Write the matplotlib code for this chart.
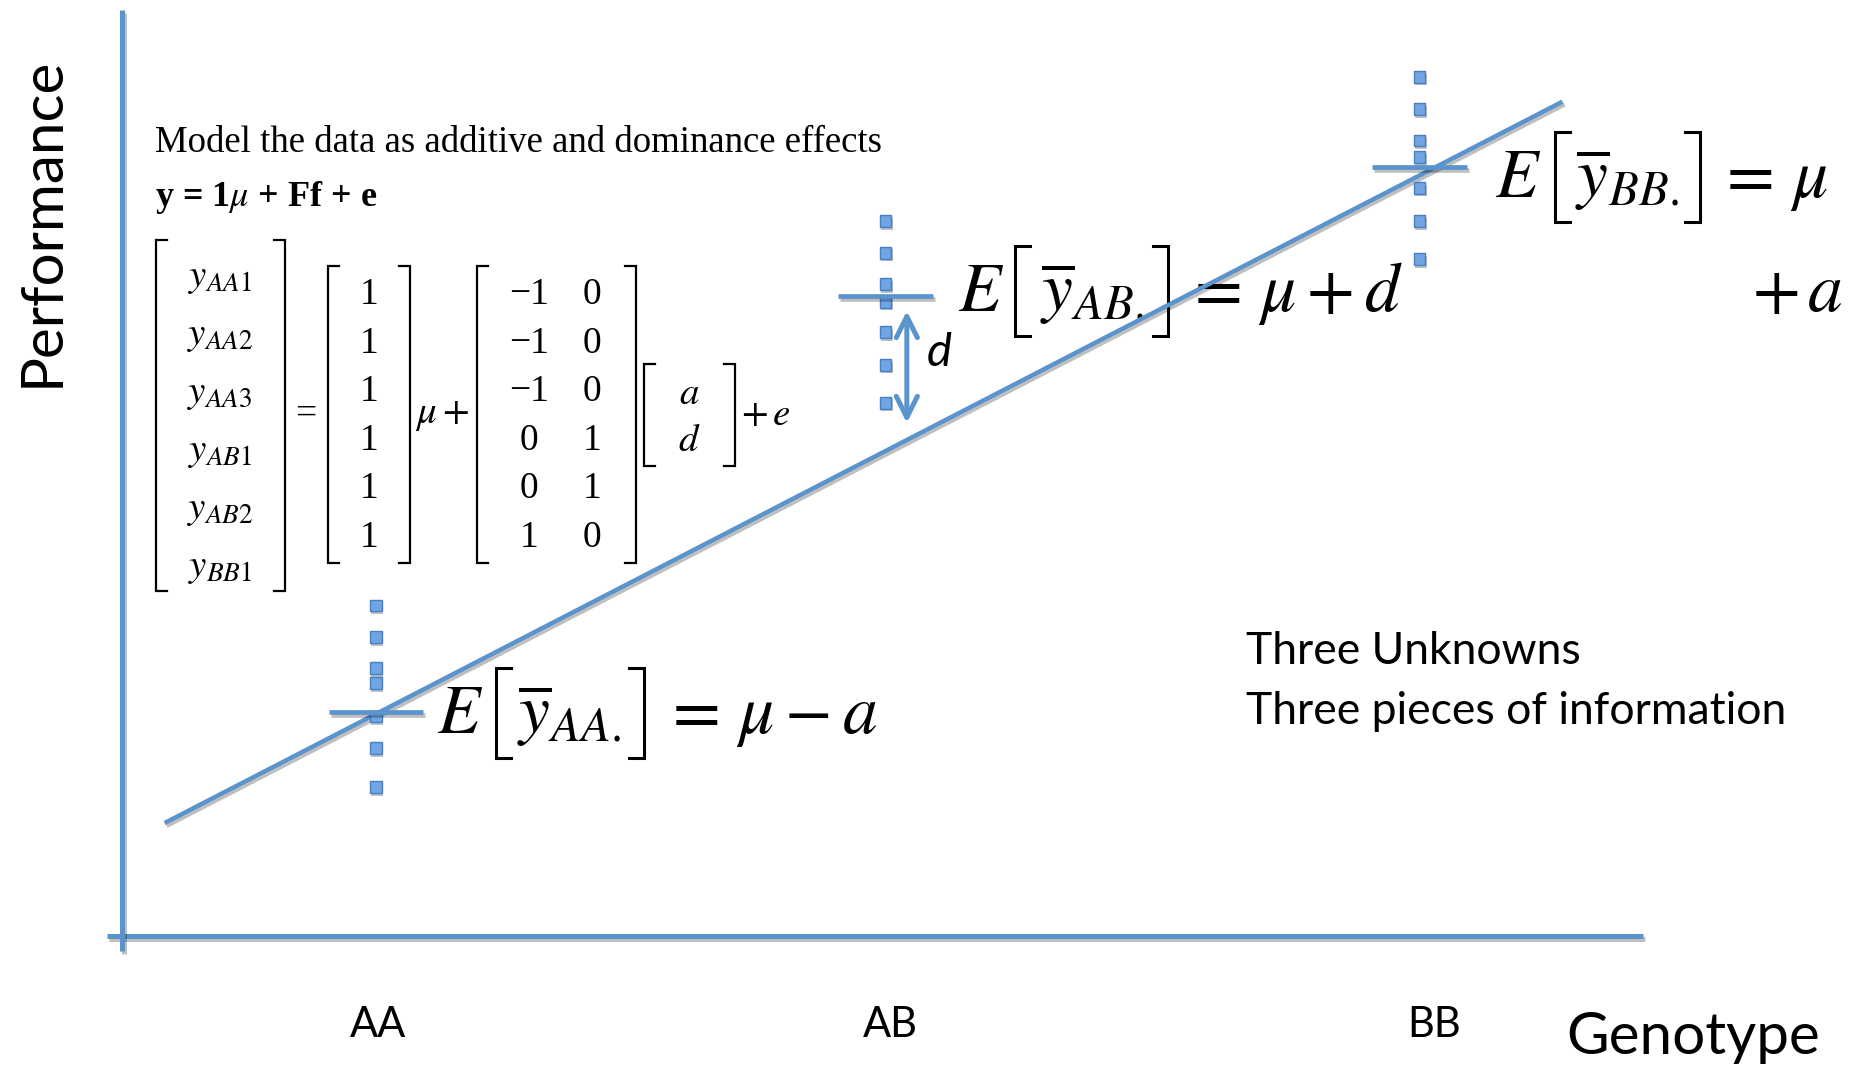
import matplotlib
matplotlib.use("Agg")
import matplotlib.pyplot as plt
import matplotlib.patheffects as pe

plt.rcParams['mathtext.fontset'] = 'stix'

# --- data (genotype axis 0..10, performance axis 0..10) ---
genotypes = ["AA", "AB", "BB"]
geno_x = [1.67, 5.02, 8.53]
label_x = [1.68, 5.05, 8.63]
obs_AA = [3.57, 3.23, 2.89, 2.73, 2.37, 2.03, 1.61]
obs_AB = [7.72, 7.38, 7.04, 6.85, 6.52, 6.17, 5.76]
obs_BB = [9.28, 8.93, 8.59, 8.41, 8.08, 7.72, 7.31]
group_means = [2.42, 6.91, 8.30]
trend_x = [0.28, 9.47]
trend_y = [1.22, 9.01]
d_arrow_x = 5.16
d_arrow_y = [6.75, 5.54]

# model y = 1mu + Ff + e
y_names = ["AA1", "AA2", "AA3", "AB1", "AB2", "BB1"]
ones = [1, 1, 1, 1, 1, 1]
F = [[-1, 0], [-1, 0], [-1, 0], [0, 1], [0, 1], [1, 0]]
effects = ["a", "d"]

# expected value equations: (subscript, right-hand side)
eq_sub = ["AA.", "AB.", "BB."]
eq_rhs = [r"=\,\mu-a", r"=\,\mu+d", r"=\,\mu"]

BLUE = '#5B93CC'
W, H = 1864, 1068
shadow = [pe.SimpleLineShadow(offset=(1.5, -2), alpha=0.25), pe.Normal()]

fig = plt.figure(figsize=(W / 100, H / 100), dpi=100)

# overlay in pixel coords for the text / brackets (drawn below the data)
ov = fig.add_axes([0, 0, 1, 1])
ov.set_xlim(0, W)
ov.set_ylim(H, 0)
ov.axis('off')
ov.set_zorder(0)

ax = fig.add_axes([122 / W, (H - 936) / H, 1521 / W, 926 / H])
ax.set_xlim(0, 10)
ax.set_ylim(0, 10)
ax.axis('off')
ax.set_zorder(1)

# axes lines
ax.plot([-0.1, 10], [0, 0], color=BLUE, lw=3.6, clip_on=False, path_effects=shadow, solid_capstyle='butt')
ax.plot([0, 0], [-0.16, 10], color=BLUE, lw=3.6, clip_on=False, path_effects=shadow, solid_capstyle='butt')

# trend line
ax.plot(trend_x, trend_y, color=BLUE, lw=3.2, path_effects=shadow, solid_capstyle='butt')

# observations and group means
for gx, obs, m in zip(geno_x, [obs_AA, obs_AB, obs_BB], group_means):
    ax.plot([gx] * len(obs), obs, 's', ms=8.5, mfc='#6FA5E2', mec='#4A7FC0', mew=1.0,
            path_effects=[pe.SimplePatchShadow(offset=(1, -2), alpha=0.3), pe.Normal()])
    ax.plot([gx - 0.31, gx + 0.31], [m, m], color=BLUE, lw=3.4, path_effects=shadow,
            solid_capstyle='butt')

for lx, lab in zip(label_x, genotypes):
    ax.text(lx, -0.96, lab, ha='center', va='center', fontsize=30, family='Lato')

# dominance arrow
ax.annotate('', xy=(d_arrow_x, d_arrow_y[1]), xytext=(d_arrow_x, d_arrow_y[0]),
            arrowprops=dict(arrowstyle='<->', color=BLUE, lw=3.6, mutation_scale=38,
                            shrinkA=0, shrinkB=0))
ax.text(d_arrow_x + 0.13, (d_arrow_y[0] + d_arrow_y[1]) / 2 + 0.15, 'd', fontsize=34,
        family='Lato', style='italic', va='center', ha='left')

# axis titles
ov.text(42, 222, "Performance", rotation=90, ha='center', va='center', fontsize=42, family='Lato')
ov.text(1693, 1038, "Genotype", ha='center', va='center', fontsize=42, family='Lato')


def bracket(x0, x1, y0, y1, s=11, lw=1.6):
    ov.plot([x0 + s, x0, x0, x0 + s], [y0, y0, y1, y1], color='black', lw=lw,
            solid_joinstyle='miter')
    ov.plot([x1 - s, x1, x1, x1 - s], [y0, y0, y1, y1], color='black', lw=lw,
            solid_joinstyle='miter')


# expected values, built from pieces so the brackets can be tall
eq_size = 50
eq_layout = [  # E left, left bracket, ybar left, right bracket, rhs right end, baseline
    (437, 496, 517, 644, 877, 733),
    (958, 1015, 1040, 1168, 1403, 311),
    (1495, 1555, 1575, 1700, 1828, 197),
]
for sub, rhs, (ex, bl, yx, br, rx, base) in zip(eq_sub, eq_rhs, eq_layout):
    ov.text(ex, base, r'$E$', fontsize=eq_size, va='baseline', ha='left')
    bracket(bl, br, base - 65, base + 25, s=15, lw=2.2)
    ov.text(yx, base, r'$\overline{y}_{%s}$' % sub, fontsize=eq_size, va='baseline', ha='left')
    ov.text(rx, base, '$%s$' % rhs, fontsize=eq_size, va='baseline', ha='right')
ov.text(1843, 311, r'$+\,a$', fontsize=eq_size, va='baseline', ha='right')

ov.text(1246, 651, "Three Unknowns", fontsize=32, family='Lato', va='center')
ov.text(1246, 711, "Three pieces of information", fontsize=32, family='Lato', va='center')

# model text
serif = 'Liberation Serif'
ov.text(155, 143, "Model the data as additive and dominance effects", fontsize=26.5,
        family=serif, va='center')
ov.text(155, 198, r'y = 1$\mu$ + Ff + e', fontsize=26, family=serif, weight='bold',
        va='center')

bracket(156, 285, 240, 591)
bracket(328, 410, 266, 563)
bracket(477, 636, 266, 563)
bracket(644, 735, 364, 466)

for i, name in enumerate(y_names):
    ov.text(220, 277 + 58 * i, r'$y_{%s}$' % name, fontsize=28, ha='center', va='center')
for i, v in enumerate(ones):
    yy = 295 + 48.5 * i
    ov.text(369, yy, str(v), fontsize=27, family=serif, ha='center', va='center')
    for j, fv in enumerate(F[i]):
        s = str(fv).replace('-', '\u2212')
        ov.text([529, 592][j], yy, s, fontsize=27, family=serif, ha='center', va='center')
for i, e in enumerate(effects):
    ov.text(689, 393 + 47 * i, r'$%s$' % e, fontsize=28, ha='center', va='center')

ov.text(306, 414, '=', fontsize=27, family=serif, ha='center', va='center')
ov.text(442, 414, r'$\mu+$', fontsize=28, ha='center', va='center')
ov.text(766, 414, r'$+\,e$', fontsize=28, ha='center', va='center')

fig.savefig('out.png', dpi=100)
